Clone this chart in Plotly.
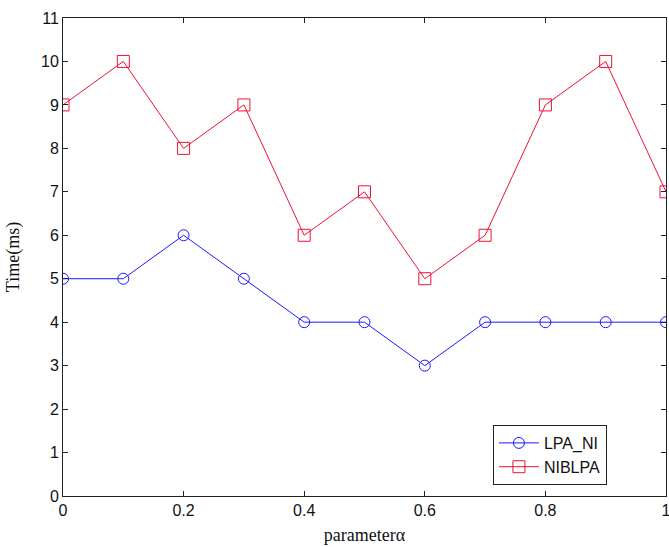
import plotly.graph_objects as go

alpha = [0, 0.1, 0.2, 0.3, 0.4, 0.5, 0.6, 0.7, 0.8, 0.9, 1.0]
lpa_ni = [5, 5, 6, 5, 4, 4, 3, 4, 4, 4, 4]
niblpa = [9, 10, 8, 9, 6, 7, 5, 6, 9, 10, 7]
x_ticks = [0, 0.2, 0.4, 0.6, 0.8, 1]
x_tick_labels = ["0", "0.2", "0.4", "0.6", "0.8", "1"]
y_ticks = list(range(0, 12))

fig = go.Figure()
fig.add_trace(go.Scatter(
    x=alpha, y=lpa_ni, name="LPA_NI", mode="lines+markers",
    line=dict(color="#1a1aff", width=1),
    marker=dict(symbol="circle-open", size=11, color="#1a1aff", line=dict(width=1)),
))
fig.add_trace(go.Scatter(
    x=alpha, y=niblpa, name="NIBLPA", mode="lines+markers",
    line=dict(color="#ee1133", width=1),
    marker=dict(symbol="square-open", size=12, color="#ee1133", line=dict(width=1)),
))

axis_common = dict(
    showgrid=False, zeroline=False, showline=True, linecolor="#222", linewidth=1,
    mirror="allticks", ticks="inside", ticklen=5, tickcolor="#222",
    tickfont=dict(family="Liberation Sans, Arial", size=16, color="#111"),
    ticklabeloverflow="allow", automargin=False,
)
title_font = dict(family="Liberation Serif, Times New Roman", size=18, color="#111")
fig.update_xaxes(range=[0, 1], tickvals=x_ticks, ticktext=x_tick_labels,
                 title=dict(text="parameterα", font=title_font, standoff=10),
                 **axis_common)
fig.update_yaxes(range=[0, 11], tickvals=y_ticks,
                 title=dict(text="Time(ms)", font=title_font, standoff=16),
                 **axis_common)

fig.update_layout(
    width=669, height=547,
    margin=dict(l=63, r=3, t=18, b=51),
    plot_bgcolor="white", paper_bgcolor="white",
    showlegend=True,
    legend=dict(x=0.713, y=0.023, xanchor="left", yanchor="bottom",
                bordercolor="#222", borderwidth=1, bgcolor="white",
                font=dict(family="Liberation Sans, Arial", size=16, color="#111"),
                itemwidth=40, tracegroupgap=0),
)

fig.write_html("out.html")
